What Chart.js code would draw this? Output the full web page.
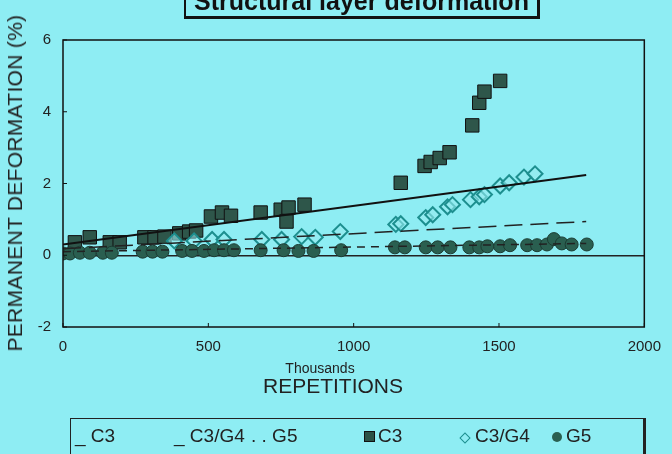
<!DOCTYPE html>
<html lang="en">
<head>
<meta charset="UTF-8">
<title>Structural layer deformation</title>
<script src="https://cdn.jsdelivr.net/npm/chart.js"></script>
<style>
    body {
        margin: 0;
        width: 672px;
        height: 454px;
        overflow: hidden;
        background: #8eedf3;
        font-family: "Liberation Sans", Arial, sans-serif;
        position: relative;
    }
    #chartBox {
        position: absolute;
        left: 0;
        top: 0;
        width: 672px;
        height: 454px;
    }
    .title {
        position: absolute;
        left: 184px;
        top: -14px;
        width: 351px;
        height: 28px;
        border: 2px solid #111;
        border-right-width: 3px;
        border-bottom-width: 3px;
        font-weight: bold;
        font-size: 25px;
        line-height: 26px;
        text-align: center;
        color: #111;
    }
    .ylabel {
        position: absolute;
        left: 15px;
        top: 183px;
        transform: translate(-50%, -50%) rotate(-90deg);
        white-space: nowrap;
        font-size: 21px;
        letter-spacing: 0.3px;
        color: #222;
    }
    .xsub {
        position: absolute;
        left: 320px;
        top: 368px;
        transform: translate(-50%, -50%);
        font-size: 14px;
        color: #222;
    }
    .xlabel {
        position: absolute;
        left: 333px;
        top: 386px;
        transform: translate(-50%, -50%);
        font-size: 21px;
        color: #222;
    }
    .legend {
        position: absolute;
        left: 70px;
        top: 418px;
        width: 572px;
        height: 40px;
        border: 1.5px solid #222;
        border-right-width: 3px;
        font-size: 19px;
        color: #222;
    }
    .legend span {
        position: absolute;
        top: 6px;
        white-space: nowrap;
    }
    .sym-sq { display: inline-block; width: 9px; height: 9px; background: #2b5246; border: 1px solid #111; margin-right: 3px; }
    .sym-di { display: inline-block; width: 6px; height: 6px; border: 1.5px solid #1d8f8f; transform: rotate(45deg); margin-right: 6px; }
    .sym-ci { display: inline-block; width: 10px; height: 10px; border-radius: 50%; background: #2a5f50; margin-right: 4px; }
</style>
</head>
<body>
<div id="chartBox"><canvas id="deformChart" width="672" height="454"></canvas></div>
<div class="title">Structural layer deformation</div>
<div class="ylabel">PERMANENT DEFORMATION (%)</div>
<div class="xsub">Thousands</div>
<div class="xlabel">REPETITIONS</div>
<div class="legend">
    <span style="left:4px">_ C3</span>
    <span style="left:103px">_ C3/G4</span>
    <span style="left:180px">. . G5</span>
    <span style="left:293px"><i class="sym-sq"></i>C3</span>
    <span style="left:390px"><i class="sym-di"></i>C3/G4</span>
    <span style="left:481px"><i class="sym-ci"></i>G5</span>
</div>

<script>
    // measured points (x in thousands of repetitions, y in %)
    const c3X = [41, 92, 161, 195, 280, 315, 349, 400, 434, 458, 509, 547, 578, 680, 749, 769, 776, 831,
                 1162, 1244, 1265, 1296, 1330, 1408, 1432, 1450, 1504];
    const c3Y = [0.36, 0.50, 0.36, 0.36, 0.50, 0.50, 0.52, 0.61, 0.66, 0.69, 1.08, 1.19, 1.10, 1.19, 1.27, 0.94, 1.33, 1.41,
                 2.02, 2.49, 2.60, 2.71, 2.87, 3.62, 4.25, 4.56, 4.86];

    const c3g4X = [383, 451, 513, 554, 684, 752, 821, 868, 954, 1145, 1162, 1248, 1272, 1323, 1340,
                   1402, 1432, 1450, 1504, 1535, 1586, 1624];
    const c3g4Y = [0.40, 0.40, 0.44, 0.44, 0.44, 0.44, 0.52, 0.50, 0.66, 0.86, 0.88, 1.05, 1.13, 1.35, 1.41,
                   1.55, 1.63, 1.69, 1.93, 2.02, 2.18, 2.27];

    const g5X = [0, 24, 58, 92, 137, 168, 274, 308, 342, 410, 444, 485, 520, 554, 588, 680, 759, 810, 862, 957,
                 1142, 1176, 1248, 1289, 1333, 1398, 1432, 1460, 1504, 1538, 1597, 1631, 1665, 1689, 1716, 1750, 1802];
    const g5Y = [0.05, 0.05, 0.07, 0.07, 0.07, 0.07, 0.10, 0.10, 0.10, 0.12, 0.12, 0.12, 0.14, 0.14, 0.14, 0.14, 0.14, 0.12, 0.12, 0.14,
                 0.22, 0.22, 0.22, 0.22, 0.22, 0.22, 0.22, 0.25, 0.25, 0.28, 0.28, 0.28, 0.30, 0.45, 0.33, 0.30, 0.30];

    // trend lines: start and end
    const fitX = [0, 1800];
    const fitC3 = [0.30, 2.24];
    const fitC3G4 = [0.18, 0.94];
    const fitG5 = [0.10, 0.33];

    const xTicks = [0, 500, 1000, 1500, 2000];
    const yTicks = [-2, 0, 2, 4, 6];

    const pts = (xs, ys) => xs.map((x, i) => ({ x: x, y: ys[i] }));

    // frame around plot + small inner tick marks
    const framePlugin = {
        id: 'frame',
        afterDatasetsDraw(chart) {
            const { ctx, chartArea: a, scales } = chart;
            ctx.save();
            ctx.strokeStyle = '#111';
            ctx.lineWidth = 1.5;
            ctx.strokeRect(a.left, a.top, a.right - a.left, a.bottom - a.top);
            ctx.lineWidth = 1;
            yTicks.forEach(v => {
                const py = scales.y.getPixelForValue(v);
                ctx.beginPath(); ctx.moveTo(a.left, py); ctx.lineTo(a.left + 4, py); ctx.stroke();
            });
            xTicks.forEach(v => {
                const px = scales.x.getPixelForValue(v);
                ctx.beginPath(); ctx.moveTo(px, a.bottom); ctx.lineTo(px, a.bottom - 4); ctx.stroke();
            });
            ctx.restore();
        }
    };

    const ctx = document.getElementById('deformChart').getContext('2d');
    new Chart(ctx, {
        type: 'scatter',
        data: {
            datasets: [
                {
                    type: 'line', label: 'C3 fit', data: pts(fitX, fitC3),
                    borderColor: '#111', borderWidth: 2, pointRadius: 0, fill: false
                },
                {
                    type: 'line', label: 'C3/G4 fit', data: pts(fitX, fitC3G4),
                    borderColor: '#222', borderWidth: 1.5, borderDash: [18, 8], pointRadius: 0, fill: false
                },
                {
                    type: 'line', label: 'G5 fit', data: pts(fitX, fitG5),
                    borderColor: '#222', borderWidth: 1.5, borderDash: [8, 6], pointRadius: 0, fill: false
                },
                {
                    label: 'G5', data: pts(g5X, g5Y),
                    pointStyle: 'circle', pointRadius: 6.5,
                    backgroundColor: '#2a5f50', borderColor: '#1c3c33', borderWidth: 1
                },
                {
                    label: 'C3/G4', data: pts(c3g4X, c3g4Y),
                    pointStyle: 'rectRot', pointRadius: 7.5,
                    backgroundColor: 'rgba(150,235,240,0.6)', borderColor: '#1d8f8f', borderWidth: 2
                },
                {
                    label: 'C3', data: pts(c3X, c3Y),
                    pointStyle: 'rect', pointRadius: 9.5,
                    backgroundColor: '#2e564a', borderColor: '#111', borderWidth: 1
                }
            ]
        },
        options: {
            responsive: false,
            animation: false,
            layout: { padding: { top: 40, right: 22, left: 0, bottom: 0 } },
            plugins: {
                legend: { display: false },
                title: { display: false },
                tooltip: { enabled: false }
            },
            scales: {
                x: {
                    type: 'linear', min: 0, max: 2000,
                    afterBuildTicks: s => { s.ticks = xTicks.map(v => ({ value: v })); },
                    afterFit: s => { s.height = 127; },
                    grid: { display: false, drawTicks: false },
                    border: { display: false },
                    ticks: {
                        padding: 11, color: '#222', font: { family: 'Liberation Sans', size: 15 },
                        callback: v => String(v)
                    }
                },
                y: {
                    min: -2, max: 6,
                    afterBuildTicks: s => { s.ticks = yTicks.map(v => ({ value: v })); },
                    afterFit: s => { s.width = 63; },
                    grid: {
                        drawTicks: false,
                        color: c => c.tick.value === 0 ? '#222' : 'rgba(0,0,0,0)',
                        lineWidth: 1.5
                    },
                    border: { display: false },
                    ticks: { padding: 12, color: '#222', font: { family: 'Liberation Sans', size: 15 } }
                }
            }
        },
        plugins: [framePlugin]
    });
</script>
</body>
</html>
